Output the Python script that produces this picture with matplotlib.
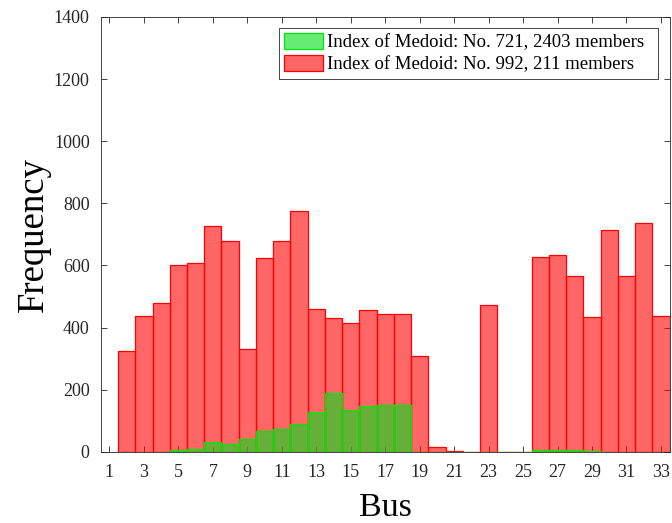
import numpy as np
import matplotlib
matplotlib.use("Agg")
import matplotlib.pyplot as plt

# ── DATA ─────────────────────────────────────────────────────────────────────
red_bus = np.arange(2, 34)
red_freq = [325, 439, 478, 602, 607, 727, 680, 330, 623, 680, 775, 460,
            432, 416, 457, 443, 443, 308, 15, 4, 0, 472, 0, 0,
            627, 633, 567, 433, 715, 565, 737, 437]

green_bus = np.arange(5, 30)
green_freq = [6, 10, 32, 26, 42, 68, 74, 89, 129, 189, 136, 148, 150, 151,
              0, 0, 0, 0, 0, 0, 0, 7, 5, 5, 3]

labels = ["Index of Medoid: No. 721, 2403 members  ",
          "Index of Medoid: No. 992, 211 members"]

# ── PLOT ─────────────────────────────────────────────────────────────────────
plt.rcParams["font.family"] = ["Liberation Serif", "DejaVu Serif"]

fig = plt.figure(figsize=(6.72, 5.23), dpi=100)
ax = fig.add_axes([0.150, 0.136, 0.8464, 0.8315])

red = ax.bar(red_bus, red_freq, width=1.0, color=(1, 0, 0, 0.6),
             edgecolor=(1, 0, 0), linewidth=0.9, zorder=2)
green = ax.bar(green_bus, green_freq, width=1.0, color=(0, 0.88, 0.1, 0.6),
               edgecolor=(0, 0.9, 0), linewidth=0.9, zorder=3)

ax.set_xlim(0.5, 33.5)
ax.set_ylim(0, 1400)
ax.set_xticks(np.arange(1, 34, 2))
ax.set_yticks(np.arange(0, 1401, 200))
ax.tick_params(direction="in", top=True, right=True, length=4,
               labelsize=13, colors="#262626", width=0.6)
ax.tick_params(axis="x", pad=9)
ax.tick_params(axis="y", pad=8)
for s in ax.spines.values():
    s.set_color("#262626")
    s.set_linewidth(0.6)

ax.set_xlabel("Bus", fontsize=24.5, labelpad=8)
ax.set_ylabel("Frequency", fontsize=26.5, labelpad=2)

leg = ax.legend([green, red], labels, loc="upper right", fontsize=13.5,
                fancybox=False, edgecolor="#262626", framealpha=1,
                borderaxespad=0.6, handlelength=2.08, handleheight=0.9,
                handletextpad=0.2, borderpad=0.27, labelspacing=0.2)
leg.get_frame().set_linewidth(0.6)

fig.savefig("out.png", dpi=100)
